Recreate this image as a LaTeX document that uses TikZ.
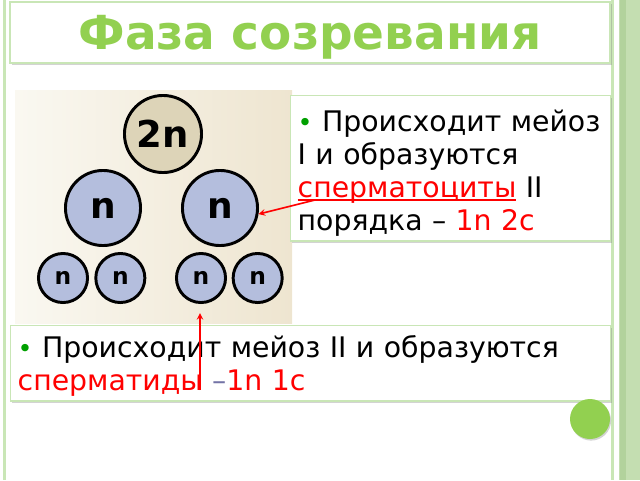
\documentclass[tikz,border=0pt]{standalone}
\usepackage{fontspec}
\setmainfont{DejaVu Sans}
\usepackage{xcolor}
\usetikzlibrary{positioning,shadows}

\definecolor{titlegreen}{HTML}{92D050}
\definecolor{framegreen}{HTML}{C9E6B6}
\definecolor{bandgreen}{HTML}{C4DEB1}
\definecolor{banddark}{HTML}{B2D29C}
\definecolor{cellbeige}{HTML}{DDD4B8}
\definecolor{cellblue}{HTML}{B4BEDD}
\definecolor{bulletgreen}{HTML}{00A000}
\definecolor{dashblue}{HTML}{7373A6}
\definecolor{paperlight}{HTML}{FAF8F1}
\definecolor{paperdark}{HTML}{EEE5D0}

\tikzset{
  slidebox/.style={draw=framegreen,line width=1pt,fill=white,
    drop shadow={shadow xshift=1.2pt,shadow yshift=-1.5pt,opacity=0.35}},
  cell/.style={circle,draw=black,line width=2.2pt,inner sep=0pt},
  bigcell/.style={cell,fill=cellblue,minimum size=56.3pt,font=\bfseries\fontsize{27}{27}\selectfont},
  smallcell/.style={cell,fill=cellblue,minimum size=36.8pt,font=\bfseries\fontsize{17.5}{17.5}\selectfont},
  bodytext/.style={align=left,font=\fontsize{21.25}{24.75}\selectfont,inner xsep=5.25pt},
  redarrow/.style={draw=red,line width=1.2pt,-stealth},
}
\newcommand{\greenbullet}{{\color{bulletgreen}\fontsize{19}{19}\selectfont•}}
% taller first line, pushes the text block down in its box
\newcommand{\lineslift}[1]{\rule{0pt}{\dimexpr 0.78em+#1\relax}}
% underline just under the baseline
\newcommand{\redunder}[1]{\leavevmode\setbox0\hbox{#1}\rlap{\rule[-2.6pt]{\wd0}{1.3pt}}\box0}

\begin{document}
\begin{tikzpicture}[x=0.75pt,y=-0.75pt]
	\useasboundingbox (0,0) rectangle (640,480);
	
	% slide frame
	\fill[framegreen] (3,0) rectangle (6,480);
	\fill[framegreen] (611,0) rectangle (614,480);
	\fill[bandgreen] (619,0) rectangle (640,480);
	\fill[banddark] (620,0) rectangle (626,480);
	
	\node[slidebox,minimum width=450pt,minimum height=45.75pt,text depth=0pt,text=titlegreen,font=\bfseries\fontsize{35.2}{40}\selectfont] (title) at (310,32.5) {Фаза созревания};
	
	% picture with the cells
	\node[inner sep=0pt,minimum width=207.75pt,minimum height=174.75pt,left color=paperlight,right color=paperdark] (photo) at (153.5,206.5) {};
	
	\node[cell,fill=cellbeige,minimum size=57.8pt,font=\bfseries\fontsize{27.75}{28}\selectfont] (zygote) at (163,134) {2n};
	
	\node[bigcell] (nL) at (103,208) {n};
	\node[bigcell] (nR) at (220,208) {n};
	
	\node[smallcell] (s1) at (63,278) {n};
	\node[smallcell,right=4pt of s1] (s2) {n};
	\node[smallcell] (s3) at (201,278) {n};
	\node[smallcell,right=3.5pt of s3] (s4) {n};
	
	% text boxes
	\node[slidebox,bodytext,anchor=north west,minimum width=240pt,minimum height=107.25pt,text width=229.5pt] (box1) at (290,95) {\lineslift{7pt}\greenbullet{} Происходит мейоз\\
		I и образуются\\
		\leavevmode{\color{red}\redunder{сперматоциты}} II\\
		порядка – {\color{red}1n 2c}};
	
	\node[slidebox,bodytext,anchor=north west,minimum width=450pt,minimum height=56.25pt,text width=439.5pt] (box2) at (10,325) {\lineslift{4pt}\greenbullet{} Происходит мейоз II и образуются\\
		{\color{red}сперматиды} {\color{dashblue}–}{\color{red}1n 1c}};
	
	\node[circle,fill=titlegreen,minimum size=30pt,inner sep=0pt,drop shadow={shadow xshift=0.8pt,shadow yshift=-1.2pt,opacity=0.35}] (dot) at (590,419) {};
	
	% arrows
	\coordinate (a1) at (315,200);
	\draw[redarrow] (a1)--(nR.-9);
	\coordinate (a2) at (200,390);
	\draw[redarrow,shorten >=6.75pt] (a2)--(a2 |- s3.south);
\end{tikzpicture}
\end{document}
